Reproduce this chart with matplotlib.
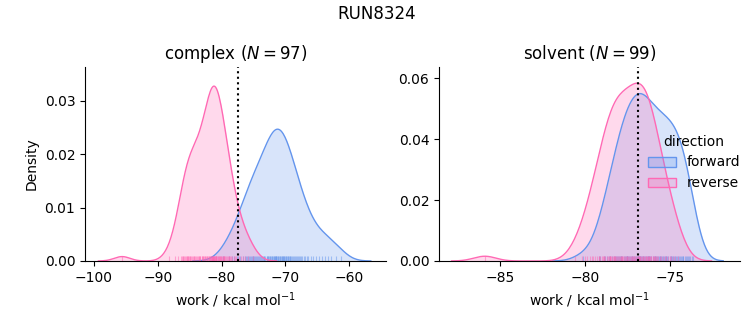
import numpy as np
import matplotlib
matplotlib.use("Agg")
import matplotlib.pyplot as plt
from matplotlib.patches import Patch
from matplotlib.transforms import blended_transform_factory

complex_forward = [
    -79.8, -78.9, -78.4, -78.0, -77.6, -77.4, -77.1, -76.6,
    -76.4, -76.2, -76.0, -75.8, -75.7, -75.6,
    -75.45, -75.3, -75.15, -75.0, -74.85, -74.7, -74.55,
    -74.4, -74.25, -74.1, -73.95, -73.8, -73.65, -73.5,
    -73.4, -73.3, -73.2, -72.95, -72.85, -72.75, -72.65, -72.55,
    -72.45, -72.35, -72.25, -72.15, -72.05, -71.95, -71.85, -71.75, -71.65, -71.55,
    -71.5, -71.45, -71.4, -71.3, -71.2, -71.1, -71.0, -70.9, -70.8, -70.7, -70.6, -70.55,
    -70.45, -70.35, -70.25, -70.15, -70.05, -69.95, -69.85, -69.75, -69.65, -69.55,
    -69.45, -69.3, -69.2, -69.05, -68.95, -68.8, -68.7, -68.55,
    -68.4, -68.2, -68.0, -67.9, -67.7, -67.55,
    -67.4, -67.1, -66.9, -66.6,
    -66.4, -66.0, -65.6,
    -65.2, -64.8, -64.3, -63.8, -63.3, -62.8, -62.1, -61.3,
]
complex_reverse = [
    -95.6, -88.2, -87.3, -86.8,
    -86.4, -86.2, -86.1, -86.0, -85.9, -85.8, -85.6, -85.5,
    -85.4, -85.3, -85.2, -85.1, -85.0, -84.9, -84.75, -84.6,
    -84.45, -84.35, -84.25, -84.15, -84.05, -83.85, -83.75, -83.6, -83.55,
    -83.45, -83.35, -83.15, -83.05, -82.95, -82.85, -82.75, -82.65, -82.55,
    -82.45, -82.35, -82.25, -82.15, -82.05, -81.95, -81.85, -81.75, -81.7, -81.6, -81.55,
    -81.5, -81.45, -81.4, -81.35, -81.3, -81.3, -81.25, -81.2, -81.15, -81.1, -81.0, -80.95,
    -80.9, -80.85, -80.8, -80.7, -80.6, -80.55,
    -80.45, -80.4, -80.3, -80.25, -80.15, -80.05, -79.95, -79.85, -79.75, -79.65, -79.6, -79.55,
    -79.4, -79.25, -79.1, -79.0, -78.9, -78.8, -78.7, -78.55,
    -78.4, -78.1, -77.95, -77.8,
    -77.35, -77.0, -76.7, -76.3, -75.8, -75.1,
]
solvent_forward = [
    -80.1, -79.2, -79.1, -78.9, -78.8,
    -78.7, -78.6, -78.5, -78.4, -78.3,
    -78.2, -78.15, -78.1, -78.05, -78.0, -77.95, -77.9, -77.85, -77.8,
    -77.7, -77.65, -77.6, -77.55, -77.5, -77.5, -77.45, -77.4, -77.35, -77.3, -77.25,
    -77.2, -77.15, -77.1, -77.05, -77.0, -76.95, -76.9, -76.85, -76.8, -76.8, -76.75, -76.75,
    -76.7, -76.65, -76.6, -76.55, -76.5, -76.45, -76.4, -76.35, -76.3, -76.3, -76.25,
    -76.2, -76.15, -76.1, -76.0, -75.95, -75.9, -75.85, -75.8, -75.75,
    -75.7, -75.65, -75.6, -75.55, -75.5, -75.45, -75.4, -75.35, -75.3, -75.25,
    -75.2, -75.15, -75.1, -75.0, -74.95, -74.9, -74.85, -74.8, -74.75,
    -74.7, -74.65, -74.6, -74.5, -74.45, -74.4, -74.35, -74.3, -74.25,
    -74.2, -74.1, -74.05, -74.0, -73.9, -73.85,
    -73.8, -73.7, -73.65,
]
solvent_reverse = [
    -85.9, -80.6, -80.2, -80.0, -79.85,
    -79.7, -79.6, -79.5, -79.4, -79.3,
    -79.2, -79.15, -79.1, -79.0, -78.95, -78.9, -78.85, -78.8,
    -78.7, -78.65, -78.6, -78.55, -78.5, -78.5, -78.45, -78.4, -78.35, -78.3, -78.3, -78.25,
    -78.2, -78.15, -78.1, -78.05, -78.0, -77.95, -77.9, -77.85, -77.8, -77.8, -77.75,
    -77.7, -77.65, -77.6, -77.55, -77.5, -77.45, -77.4, -77.35, -77.3, -77.25,
    -77.2, -77.15, -77.1, -77.1, -77.05, -77.0, -76.95, -76.9, -76.85, -76.8, -76.8, -76.75, -76.75,
    -76.7, -76.65, -76.6, -76.55, -76.5, -76.45, -76.4, -76.4, -76.35, -76.3, -76.3, -76.25,
    -76.2, -76.15, -76.1, -76.1, -76.0, -76.0, -75.95, -75.9, -75.85, -75.8, -75.75, -75.7,
    -75.6, -75.5, -75.4, -75.3, -75.2, -75.1,
    -75.0, -74.9, -74.8, -74.7, -74.5,
]

# free energy estimates (dotted lines)
dg_complex = -77.5
dg_solvent = -76.85

colors = {"forward": "cornflowerblue", "reverse": "hotpink"}
total = len(complex_forward) + len(complex_reverse) + len(solvent_forward) + len(solvent_reverse)


def kde(x, gridsize=200, cut=3):
    x = np.asarray(x)
    n = len(x)
    bw = x.std(ddof=1) * n ** (-1 / 5)
    grid = np.linspace(x.min() - cut * bw, x.max() + cut * bw, gridsize)
    dens = np.exp(-0.5 * ((grid[:, None] - x[None, :]) / bw) ** 2).sum(axis=1)
    dens /= n * bw * np.sqrt(2 * np.pi)
    return grid, dens * n / total  # common norm over all groups


fig = plt.figure(figsize=(7.53, 3.25), dpi=100)
ax1 = fig.add_axes([0.113, 0.197, 0.399, 0.596])
ax2 = fig.add_axes([0.583, 0.197, 0.400, 0.596])

panels = [
    (ax1, "complex", complex_forward, complex_reverse, dg_complex, (-101.4, -54.3), 0.0363),
    (ax2, "solvent", solvent_forward, solvent_reverse, dg_solvent, (-88.6, -70.85), 0.0636),
]

for ax, name, fwd, rev, dg, xlim, ytop in panels:
    trans = blended_transform_factory(ax.transData, ax.transAxes)
    for label, vals in [("forward", fwd), ("reverse", rev)]:
        c = colors[label]
        g, d = kde(vals)
        ax.fill_between(g, d, color=c, alpha=0.25, lw=0)
        ax.plot(g, d, color=c, lw=1)
        ax.vlines(vals, 0, 0.025, transform=trans, color=c, lw=0.8, alpha=0.5)
    ax.axvline(dg, color="k", ls=":", lw=1.5)
    ax.set_xlim(*xlim)
    ax.set_ylim(0, ytop)
    ax.spines["top"].set_visible(False)
    ax.spines["right"].set_visible(False)
    ax.set_xlabel("work / kcal mol$^{-1}$")
    ax.set_title(f"{name} ($N={len(fwd)}$)")

ax1.set_ylabel("Density")
ax1.set_xticks([-100, -90, -80, -70, -60])
ax1.set_yticks([0, 0.01, 0.02, 0.03])
ax2.set_xticks([-85, -80, -75])
ax2.set_yticks([0, 0.02, 0.04, 0.06])

handles = [Patch(facecolor=matplotlib.colors.to_rgba(colors[k], 0.25), edgecolor=colors[k], lw=1)
           for k in colors]
fig.legend(handles, list(colors), title="direction", loc="center right", frameon=False)

fig.suptitle("RUN8324", y=0.985)
fig.savefig("out.png", dpi=100)
